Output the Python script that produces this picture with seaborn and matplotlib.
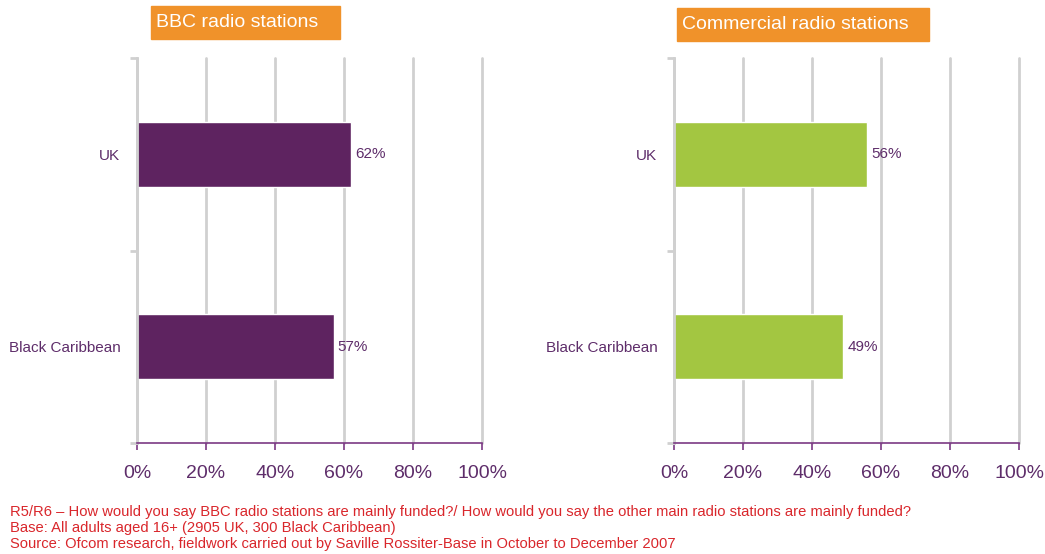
import matplotlib
matplotlib.use("Agg")
import matplotlib.pyplot as plt
import seaborn as sns
import pandas as pd
from matplotlib.ticker import FuncFormatter

categories = ["UK", "Black Caribbean"]
bbc_values = [62, 57]
commercial_values = [56, 49]
panel_titles = ["BBC radio stations", "Commercial radio stations"]
x_ticks = [0, 20, 40, 60, 80, 100]
footnote_lines = [
    "R5/R6 \u2013 How would you say BBC radio stations are mainly funded?/ How would you say the other main radio stations are mainly funded?",
    "Base: All adults aged 16+ (2905 UK, 300 Black Caribbean)",
    "Source: Ofcom research, fieldwork carried out by Saville Rossiter-Base in October to December 2007",
]

sns.set_theme(style="white")
plt.rcParams['font.family'] = ['Liberation Sans', 'DejaVu Sans']

PURPLE = "#5e2360"
TEXT_PURPLE = "#5e2d6a"
GREEN = "#a3c641"
ORANGE = "#f0922a"
GRID = "#d0d0d0"
RED = "#d9262b"

fig = plt.figure(figsize=(10.45, 5.54), dpi=100)
W, H = 1045, 554

panels = [
    (bbc_values, PURPLE, 137, (151, 6, 189, 33)),
    (commercial_values, GREEN, 674, (677, 8, 252, 33)),
]

for (vals, color, x0, box), title in zip(panels, panel_titles):
    ax = fig.add_axes([x0 / W, 1 - 443 / H, 345 / W, (443 - 58) / H])
    df = pd.DataFrame({"cat": categories, "val": vals})
    sns.barplot(data=df, x="val", y="cat", orient="h", color=color,
                width=0.34, ax=ax, saturation=1)
    ax.set_xlim(0, 100)
    ax.set_ylim(1.5, -0.5)
    ax.set_xticks(x_ticks)
    ax.xaxis.set_major_formatter(FuncFormatter(lambda v, p: f"{v:.0f}%"))
    ax.set_xlabel("")
    ax.set_ylabel("")
    ax.set_axisbelow(True)
    ax.grid(axis="x", color=GRID, linewidth=2)
    for gl in ax.get_xgridlines():
        gl.set_clip_on(False)
    for s in ["top", "right"]:
        ax.spines[s].set_visible(False)
    ax.spines["left"].set_color(GRID)
    ax.spines["left"].set_linewidth(2)
    ax.spines["bottom"].set_color("#7b3a84")
    ax.spines["bottom"].set_linewidth(1.2)
    ax.spines["bottom"].set_zorder(5)
    ax.tick_params(axis="x", colors=TEXT_PURPLE, labelsize=14, length=5,
                   width=1.2, direction="out", pad=11, bottom=True)
    ax.tick_params(axis="x", which="major", color="#7b3a84")
    ax.set_yticks([0, 1])
    ax.set_yticklabels(categories)
    ax.tick_params(axis="y", colors=TEXT_PURPLE, labelsize=11, length=0, pad=12)
    ax.set_yticks([-0.5, 0.5, 1.5], minor=True)
    ax.tick_params(axis="y", which="minor", length=5, width=2, color=GRID, left=True)
    for c in ax.containers:
        ax.bar_label(c, labels=[f"{v}%" for v in vals], padding=3,
                     color=TEXT_PURPLE, fontsize=11)
    bx, by, bw, bh = box
    fig.patches.append(plt.Rectangle((bx / W, 1 - (by + bh) / H), bw / W, bh / H,
                                     transform=fig.transFigure, color=ORANGE, zorder=0))
    fig.text((bx + 5) / W, 1 - (by + bh / 2) / H, title, color="white",
             fontsize=14, va="center", ha="left")

fig.text(10 / W, 1 - 528 / H, "\n".join(footnote_lines), color=RED,
         fontsize=10.65, va="center", ha="left", linespacing=1.22)

fig.savefig("out.png", dpi=100)
